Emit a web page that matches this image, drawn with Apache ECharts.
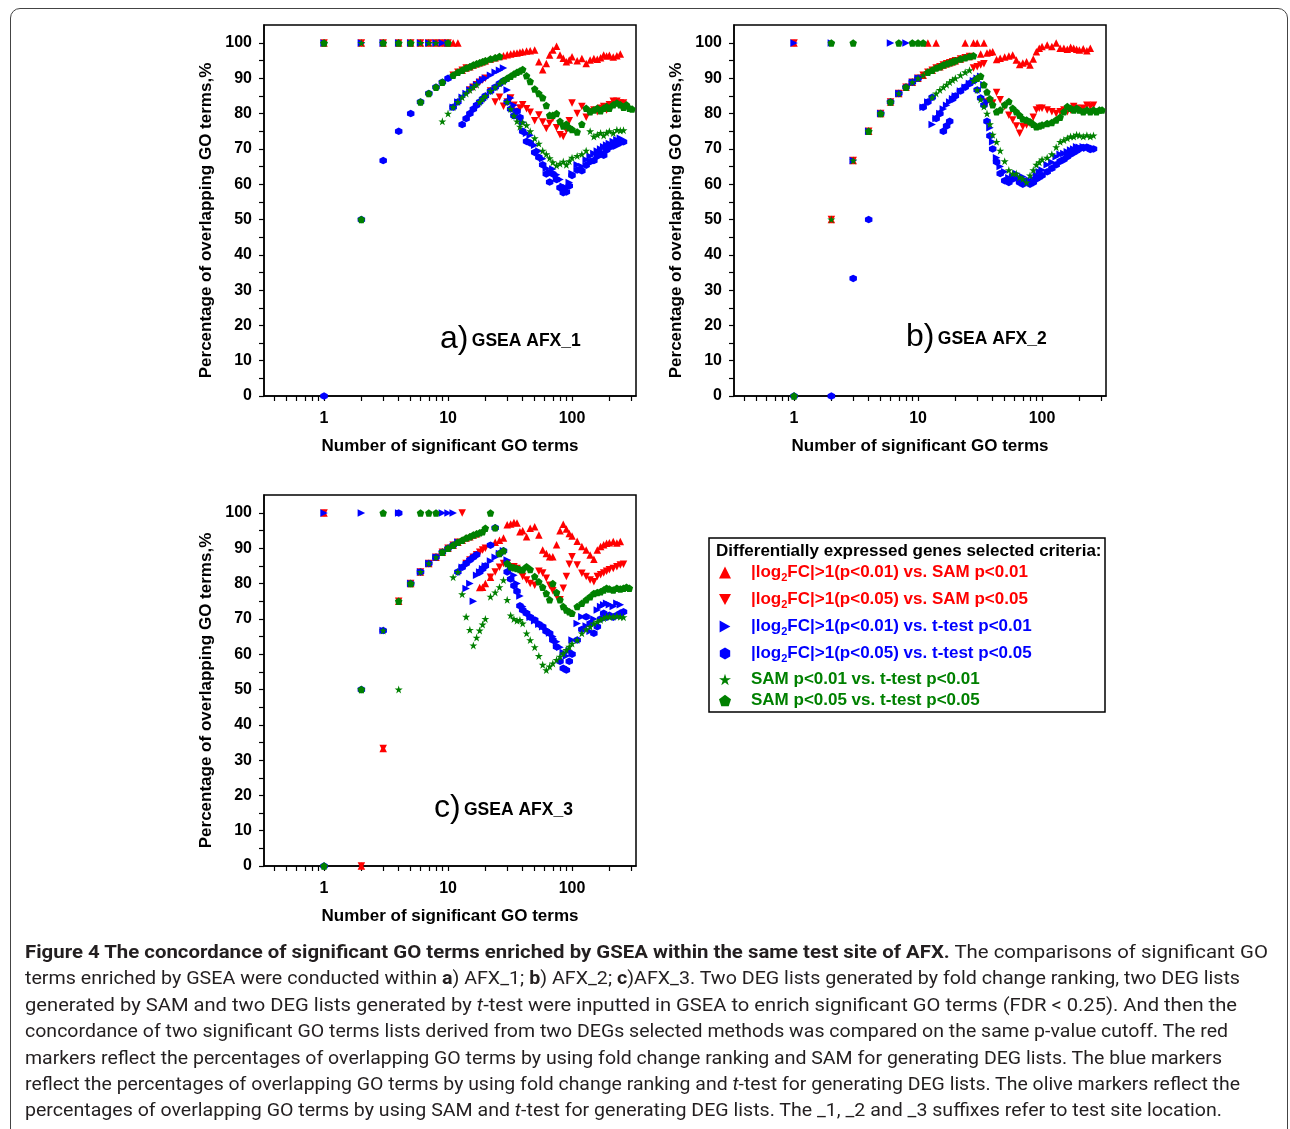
<!DOCTYPE html>
<html>
<head>
<meta charset="utf-8">
<title>GSEA concordance</title>
<script src="https://cdn.jsdelivr.net/npm/echarts@6/dist/echarts.min.js"></script>
<style>
*{margin:0;padding:0}
body{width:1290px;height:1129px;background:#fff;overflow:hidden;position:relative}
#main{position:absolute;left:0;top:0;width:1290px;height:1129px}
#frame{position:absolute;left:10px;top:8px;width:1276px;height:1200px;border:1.5px solid #444;border-radius:10px;pointer-events:none}
#caption{position:absolute;left:25px;top:939px;font-family:"Liberation Sans Narrow","Roboto",sans-serif;font-size:19px;line-height:26.4px;color:#231f20}
#caption div{white-space:nowrap;transform-origin:0 50%;width:max-content}
</style>
</head>
<body>
<div id="main"></div>
<div id="frame"></div>
<div id="caption">
  <div data-w="1243"><b>Figure 4 The concordance of significant GO terms enriched by GSEA within the same test site of AFX.</b> The comparisons of significant GO</div>
  <div data-w="1215">terms enriched by GSEA were conducted within <b>a</b>) AFX_1; <b>b</b>) AFX_2; <b>c</b>)AFX_3. Two DEG lists generated by fold change ranking, two DEG lists</div>
  <div data-w="1212">generated by SAM and two DEG lists generated by <i>t</i>-test were inputted in GSEA to enrich significant GO terms (FDR &lt; 0.25). And then the</div>
  <div data-w="1203">concordance of two significant GO terms lists derived from two DEGs selected methods was compared on the same p-value cutoff. The red</div>
  <div data-w="1197">markers reflect the percentages of overlapping GO terms by using fold change ranking and SAM for generating DEG lists. The blue markers</div>
  <div data-w="1215">reflect the percentages of overlapping GO terms by using fold change ranking and <i>t</i>-test for generating DEG lists. The olive markers reflect the</div>
  <div data-w="1197">percentages of overlapping GO terms by using SAM and <i>t</i>-test for generating DEG lists. The _1, _2 and _3 suffixes refer to test site location.</div>
</div>
<script type="text/javascript">
// number of significant GO terms (shared x positions)
var G = [1,2,3,4,5,6,7,8,9,10,
  11,12,13,14,15,16,17,18,19,20,
  22,24,26,28,30,32,34,36,38,40,
  43,46,50,54,58,62,66,70,75,80,
  85,90,95,100,110,120,130,140,150,160,
  170,180,190,200,215,230,245,260,275,290,
  305];

// a) GSEA AFX_1
var aUp = [100,100,100,100,100,100,100,100,100,100,
  100,100,92.3,92.9,93.3,93.8,94.1,94.4,94.7,95,
  95.5,95.8,96.2,96.4,96.7,96.9,97.1,97.2,97.4,97.5,
  97.7,97.8,98,94.7,92.4,94.2,96.6,98,99.1,96.6,
  95.7,94.7,95.2,96.1,95,95.6,94.2,95.2,95.6,95.4,
  95.8,96.6,96.3,96.5,96,96.4,96.9,null,null,null,
  null];
var aDown = [100,100,100,100,100,100,100,100,100,100,
  90.9,91.7,92.3,92.9,86.7,87.5,88.2,88.9,89.5,90,
  86.4,83.3,84.6,82.1,83.3,84.4,82.4,80.6,81.6,82.5,
  81.4,80.4,78,79.6,77.6,75.8,77.3,78.6,76,74,
  73.5,75.3,78,83,80,82,79,80.5,81,80.5,
  81.5,82,81,82.5,83.5,83.5,83,83,null,null,
  null];
var aRight = [100,100,100,100,100,100,100,100,100,100,
  81.8,83.3,84.6,85.7,86.7,87.5,88.2,88.9,89.5,90,
  90.9,91.7,92.3,92.9,86.7,84.4,82.4,80.6,78.9,77.5,
  74.4,73.9,71,69.4,67.2,64.5,63.6,64.3,62.7,61.3,
  59.4,59,60.5,63,65.5,65,66.9,67.9,68.7,69.4,
  70,70.6,71.1,71.5,72.1,72.6,73,null,null,null,
  null];
var aHex = [0,50,66.7,75,80,83.3,85.7,87.5,88.9,90,
  81.8,83.3,76.9,78.6,80,81.3,82.4,83.3,84.2,85,
  86.4,87.5,88.5,89.3,83.3,81.3,79.4,80.6,78.9,75,
  72.1,71.7,69,67.6,65.5,62.9,60.6,62.9,61.3,59,
  57.6,57.8,59.5,62.5,64,63.8,65.4,66.4,66.7,68,
  68.8,68.2,69.7,70.5,70.8,71.3,71.8,72,null,null,
  null];
var aStar = [100,100,100,100,100,100,100,100,77.8,80,
  81.8,83.3,84.6,85.7,86.7,87.5,88.2,83.3,84.2,85,
  86.4,87.5,88.5,89.3,83.3,81.3,79.4,77.8,76.3,77.5,
  76.7,75,73,71.5,69.5,68.5,67.4,66.2,65.3,65.8,
  66.4,65.5,66.5,67.5,68,68.5,69.5,75,73.5,74,
  74.5,73.8,74.6,75,74.5,75.4,75.2,75.3,null,null,
  null];
var aPent = [100,50,100,100,100,83.3,85.7,87.5,88.9,100,
  90.9,91.7,92.3,92.9,93.3,93.8,94.1,94.4,94.7,95,
  95.5,95.8,96.2,89.3,90,90.6,91.2,91.7,92.1,92.5,
  90.7,89.1,87,85.7,84.5,82.3,79.5,79.5,80,77.8,
  76.5,77,76,75.5,74.8,77,81.5,80.5,81,81.5,
  80.8,81.5,82,81.5,82.5,83,82.5,81.8,82.5,81.5,
  81.3];

// b) GSEA AFX_2
var bUp = [100,50,66.7,75,80,83.3,85.7,87.5,88.9,90,
  90.9,100,92.3,100,93.3,93.8,94.1,94.4,94.7,95,
  95.5,100,96.2,100,100,96.9,100,97.2,97.4,97.5,
  95.3,95.7,96,96.3,96.6,95.2,93.9,94.3,94.7,93.8,
  95.5,97.5,98.5,99,99.4,99,100,98.5,98.5,98.2,
  98.8,98.5,98.2,98,98.4,97.8,98.5,null,null,null,
  null];
var bDown = [100,50,66.7,75,80,83.3,85.7,87.5,88.9,90,
  90.9,91.7,92.3,92.9,93.3,93.8,94.1,94.4,94.7,95,
  95.5,95.8,96.2,92.9,93.3,93.8,94.1,83.3,83.5,83,
  86,83.9,82,79.5,78.2,76.5,74.4,76.3,76.8,77.2,
  79,81,81.5,81.5,81,80.5,80,80.5,81,80.5,
  81,82,81.5,81,81.5,82.4,82,82.4,null,null,
  null];
var bRight = [100,100,66.7,75,80,100,85.7,100,88.9,90,
  81.8,83.3,76.9,78.6,80,81.3,82.4,83.3,84.2,85,
  86.4,87.5,88.5,89.3,90,90.6,88.2,83.3,76,72,
  67.5,65,63.5,61.8,62.1,63,61.2,62.1,60.5,60.7,
  61.5,62.5,63.5,64,65.5,66.2,67.8,68.5,68.7,69.2,
  69.7,70,70.6,70.5,70.6,70.2,70.5,70.2,null,null,
  null];
var bHex = [0,0,33.3,50,80,83.3,85.7,87.5,88.9,90,
  81.8,83.3,84.6,78.6,80,75,76.5,77.8,84.2,85,
  86.4,87.5,88.5,89.3,86.7,84.4,82.4,77.8,73.7,70,
  66.3,63,61,60.5,61.5,61.8,60.5,60,61,60,
  60.5,61.5,62,62.5,63.5,64.5,65.5,66.5,67,67.8,
  68.5,69,69.5,70,70.4,70.5,69.8,70,null,null,
  null];
var bStar = [0,50,66.7,75,80,83.3,85.7,87.5,88.9,90,
  90.9,91.7,84.6,85.7,86.7,87.5,88.2,88.9,89.5,90,
  90.9,91.7,92.3,89.3,86.7,84,82,80,77,74,
  72,69.5,66.5,64,63,63,62,61.5,60.5,62.5,
  64,65.5,66.2,67,67.5,68.5,70.5,72,72.5,73,
  73.5,73.5,74,73.8,73.5,73.9,73.5,73.8,null,null,
  null];
var bPent = [0,100,100,75,80,83.3,100,87.5,100,100,
  100,91.7,92.3,92.9,93.3,93.8,94.1,94.4,94.7,95,
  95.5,95.8,96.2,96.4,90,90.6,88.2,86.1,84.2,82.5,
  80.5,81,82.5,83.4,81.5,80.5,79.5,78.5,78.2,77.7,
  77,76.3,76.5,76.8,77.2,77.5,78.2,79,80.5,82,
  81.5,81,81.5,81,80.5,81,80.5,81,80.5,81,
  81];

// c) GSEA AFX_3
var cUp = [100,0,33.3,75,80,83.3,85.7,87.5,88.9,90,
  90.9,91.7,92.3,92.9,93.3,93.8,94.1,78.9,79,80,
  81.8,91.7,92.3,92.9,96.7,96.9,97.3,97.2,94.7,95,
  93.3,95.7,96.1,93.8,89.5,88.5,87.6,87.6,91,95,
  96.8,95.5,94.2,93.5,92,90.5,89.5,88.1,86.9,89.5,
  90.5,91,91.4,91.6,91.9,91.5,91.9,null,null,null,
  null];
var cDown = [100,0,33.3,75,80,83.3,85.7,87.5,88.9,90,
  90.9,91.7,100,85.7,86.7,87.5,88.2,88.9,89.5,90,
  81.8,83.3,84.6,85.7,85.7,84.3,84.8,84.3,83.5,82,
  81,80,79.5,83.5,83,81.5,79.5,78,76.5,75.4,
  78.7,82,85.5,87.6,85.3,82.9,82,81,80.5,82,
  82.5,83,83.5,83.9,84.3,84.8,85.3,85.5,null,null,
  null];
var cRight = [100,100,66.7,100,80,83.3,85.7,87.5,100,100,
  100,91.7,84.6,78.6,80,75,82.4,83.3,84.2,85,
  86.4,87.5,88.5,89.3,86.7,84.4,82.4,80,76.5,73.5,
  72,70.5,69.5,68.5,67.8,67,66,65,63.5,62,
  60.5,59.5,61,64,68.7,70.6,68,66.5,70,72.5,
  73.5,74,74.4,74,73.5,74.4,74,71.6,null,null,
  null];
var cHex = [0,50,66.7,100,80,83.3,85.7,87.5,88.9,90,
  90.9,83.3,84.6,85.7,86.7,87.5,88.2,83.3,84.2,85,
  90.9,95.8,88.5,89.3,83.3,81.3,79.4,77.8,73.7,72.5,
  71.6,70.5,69.7,68.5,67.8,66.5,65.9,64,62.1,58,
  56,55.5,58,60,64,67,70.6,68.7,65.9,67.8,
  70,71.6,70.5,71,70.5,71,71.6,72,null,null,
  null];
var cStar = [0,50,66.7,50,80,83.3,85.7,87.5,88.9,90,
  81.8,83.3,77,70.6,66.9,62.5,64.7,66.7,68.4,70,
  76.3,77.5,79,81,75.4,71,70,69.5,69.7,68.7,
  65.9,64,62,59.5,57,55.5,56.5,57.4,58.4,59.3,
  60.2,61.2,62.1,63,64,65.9,67,67.8,68.7,69.2,
  69.7,70.2,70.6,70.6,70.6,70.8,70.6,70.5,null,null,
  null];
var cPent = [0,50,100,75,80,100,100,100,88.9,90,
  90.9,91.7,92.3,92.9,93.3,93.8,94.1,94.4,94.7,95.7,
  100,95.8,88.5,89.3,85.7,84.8,84.5,84.3,84,83.9,
  84.8,84,82,80.5,79,77.2,75.4,80,77.5,75.4,
  73.5,72.5,72,71.6,73.5,74.4,75.4,76.3,77.2,77.5,
  77.7,78.2,78.7,78.5,78.2,78.7,78.5,78.7,79,78.7,
  null];

var xTicks = [0.4,0.5,0.6,0.7,0.8,0.9,1,2,3,4,5,6,7,8,9,10,20,30,40,50,60,70,80,90,100,200,300];
var xLabels = [1,10,100];
var yTicks = [0,5,10,15,20,25,30,35,40,45,50,55,60,65,70,75,80,85,90,95,100];
var yLabels = [0,10,20,30,40,50,60,70,80,90,100];
var panelTags = ['a)', 'b)', 'c)'];
var panelNames = ['GSEA AFX_1', 'GSEA AFX_2', 'GSEA AFX_3'];

var RED = '#ff0000', BLUE = '#0000ff', GREEN = '#008000';
var FONT = '"Liberation Sans", Arial, sans-serif';

var kinds = [
  {name: '|log2FC|>1(p<0.01) vs. SAM p<0.01', symbol: 'triangle', size: 7.5, color: RED},
  {name: '|log2FC|>1(p<0.05) vs. SAM p<0.05', symbol: 'path://M0,0L10,0L5,9Z', size: 7.5, color: RED},
  {name: '|log2FC|>1(p<0.01) vs. t-test p<0.01', symbol: 'path://M0,0L9,5L0,10Z', size: 7.5, color: BLUE},
  {name: '|log2FC|>1(p<0.05) vs. t-test p<0.05', symbol: 'path://M5,0L9.33,2.5L9.33,7.5L5,10L0.67,7.5L0.67,2.5Z', size: 7.5, color: BLUE},
  {name: 'SAM p<0.01 vs. t-test p<0.01', symbol: 'path://M5,0L6.12,3.455L9.755,3.455L6.82,5.59L7.939,9.045L5,6.91L2.061,9.045L3.18,5.59L0.245,3.455L3.88,3.455Z', size: 8, color: GREEN},
  {name: 'SAM p<0.05 vs. t-test p<0.05', symbol: 'path://M5,0L9.755,3.455L7.939,9.045L2.061,9.045L0.245,3.455Z', size: 7.5, color: GREEN}
];
var panels = [
  [aUp, aDown, aRight, aHex, aStar, aPent],
  [bUp, bDown, bRight, bHex, bStar, bPent],
  [cUp, cDown, cRight, cHex, cStar, cPent]
];
var grids = [
  {left: 264, top: 25, width: 372, height: 371},
  {left: 734, top: 25, width: 372, height: 371},
  {left: 264, top: 495, width: 372, height: 371}
];

var myChart = echarts.init(document.getElementById('main'), null, {renderer: 'canvas'});

var xAxes = [], yAxes = [], series = [];
grids.forEach(function (g, p) {
  g.show = true;
  g.borderColor = '#000';
  g.borderWidth = 1.5;
  g.containLabel = false;
  xAxes.push({
    type: 'log', logBase: 10, gridIndex: p, min: 0.328, max: 328,
    axisLine: {lineStyle: {color: '#000', width: 1.5}},
    axisTick: {customValues: xTicks, length: 5, lineStyle: {color: '#000', width: 1.2}},
    axisLabel: {customValues: xLabels, margin: 15, color: '#000', fontWeight: 'bold', fontSize: 16, fontFamily: FONT},
    splitLine: {show: false},
    name: 'Number of significant GO terms', nameLocation: 'middle', nameGap: 42,
    nameTextStyle: {color: '#000', fontWeight: 'bold', fontSize: 17, fontFamily: FONT}
  });
  yAxes.push({
    type: 'value', gridIndex: p, min: 0, max: 105.1,
    axisLine: {show: true, lineStyle: {color: '#000', width: 1.5}},
    axisTick: {show: true, customValues: yTicks, length: 5, lineStyle: {color: '#000', width: 1.2}},
    axisLabel: {customValues: yLabels, margin: 12, color: '#000', fontWeight: 'bold', fontSize: 16, fontFamily: FONT},
    splitLine: {show: false},
    name: 'Percentage of overlapping GO terms,%', nameLocation: 'middle', nameGap: 49,
    nameTextStyle: {color: '#000', fontWeight: 'bold', fontSize: 17, fontFamily: FONT, padding: [0, 0, 0, -20]}
  });
  panels[p].forEach(function (vals, k) {
    var kd = kinds[k];
    series.push({
      type: 'scatter', name: kd.name, xAxisIndex: p, yAxisIndex: p,
      symbol: kd.symbol, symbolSize: kd.size,
      itemStyle: {color: kd.color, opacity: 1},
      data: G.map(function (x, i) { return [x, vals[i]]; }).filter(function (d) { return d[1] != null; }),
      animation: false
    });
  });
});

function legendData(list) {
  return list.map(function (k) { return {name: k.name, textStyle: {color: k.color}}; });
}
var legendText = {
  fontFamily: FONT, fontWeight: 'bold', fontSize: 17, padding: [0, 0, 0, 15],
  rich: {s: {fontFamily: FONT, fontWeight: 'bold', fontSize: 11, padding: [10, 0, 0, 0]}}
};
function fmt(name) { return name.replace('log2', 'log{s|2}'); }

var graphics = [
  {type: 'rect', z: 1, silent: true, shape: {x: 709, y: 538, width: 396, height: 174},
    style: {fill: '#fff', stroke: '#000', lineWidth: 1.5}},
  {type: 'text', z: 2, x: 716, y: 551, style: {text: 'Differentially expressed genes selected criteria:',
    fill: '#000', font: 'bold 17px ' + FONT, verticalAlign: 'middle'}}
];
var tagPos = [[440, 339], [906, 337], [434, 808]];
tagPos.forEach(function (pos, p) {
  graphics.push({type: 'text', z: 2, x: pos[0], y: pos[1], style: {
    text: '{t|' + panelTags[p] + '} {n|' + panelNames[p] + '}', verticalAlign: 'middle',
    rich: {
      t: {fontSize: 32, fontFamily: FONT, fill: '#000'},
      n: {fontSize: 17.5, fontWeight: 'bold', fontFamily: FONT, fill: '#000', padding: [5, 0, 0, 0]}
    }
  }});
});

var option = {
  animation: false,
  grid: grids,
  xAxis: xAxes,
  yAxis: yAxes,
  legend: [
    {orient: 'vertical', left: 719, top: 564, padding: 0, itemWidth: 12, itemHeight: 12, itemGap: 8, z: 5,
      selectedMode: false, data: legendData(kinds.slice(0, 4)), textStyle: legendText, formatter: fmt},
    {orient: 'vertical', left: 719, top: 671, padding: 0, itemWidth: 12, itemHeight: 12, itemGap: 4, z: 5,
      selectedMode: false, data: legendData(kinds.slice(4)), textStyle: legendText, formatter: fmt}
  ],
  graphic: graphics,
  series: series
};
myChart.setOption(option);

// fit each caption line to the width it has in the figure
function fitCaption() {
  var lines = document.querySelectorAll('#caption div');
  lines.forEach(function (el) {
    el.style.transform = 'none';
    var w = el.getBoundingClientRect().width;
    var target = parseFloat(el.getAttribute('data-w'));
    el.style.transform = 'scaleX(' + (target / w) + ')';
  });
}
fitCaption();
if (document.fonts && document.fonts.ready) { document.fonts.ready.then(fitCaption); }
</script>
</body>
</html>
